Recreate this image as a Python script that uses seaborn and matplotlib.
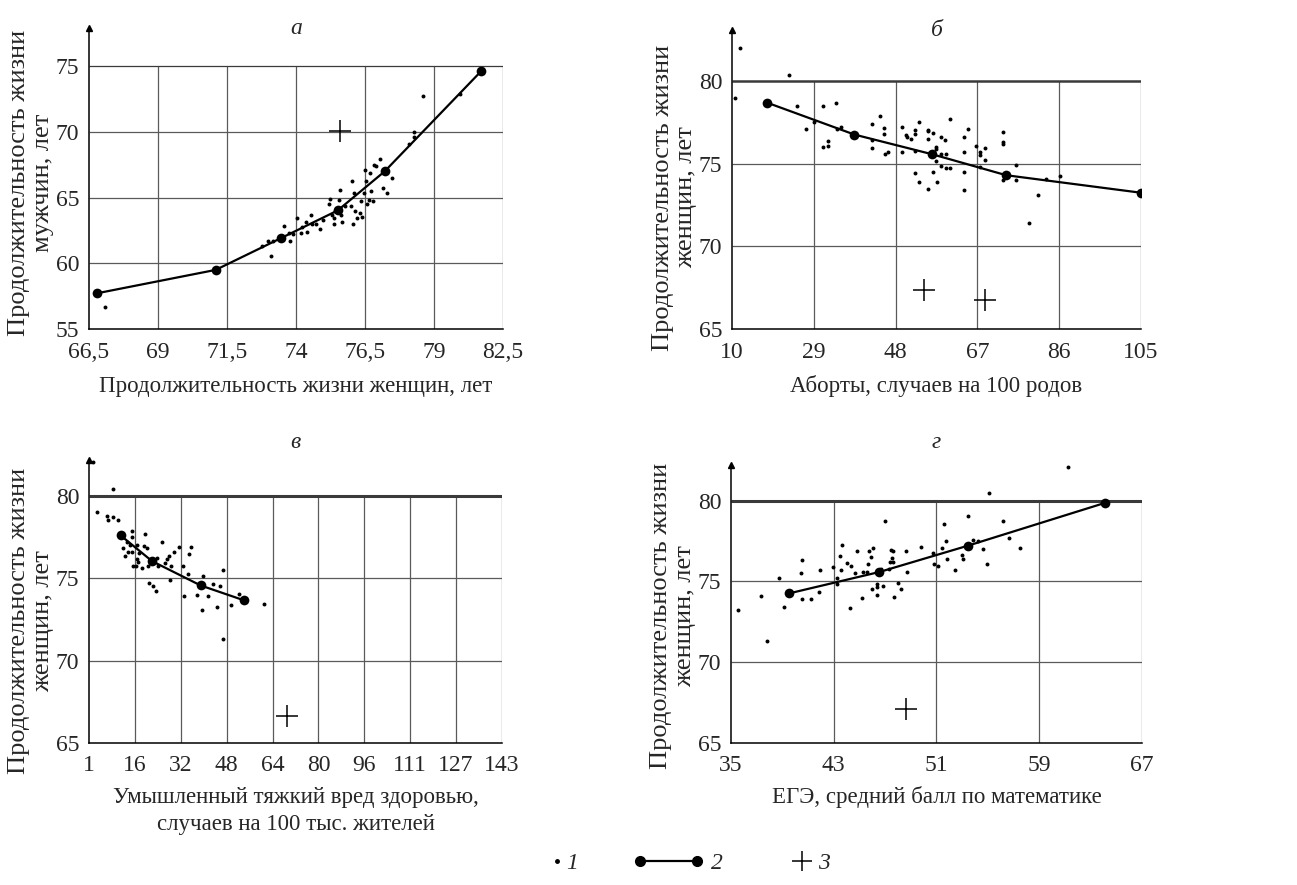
import numpy as np
import pandas as pd
import seaborn as sns
import matplotlib.pyplot as plt
from matplotlib.lines import Line2D
from matplotlib.legend_handler import HandlerLine2D

# ── Panel а: life expectancy, women (x) vs men (y) ──────────────────
a_pts_x = [67.09, 73.09, 72.76, 72.98, 73.16, 73.57, 73.74, 73.77, 73.91, 74.03,
           74.19, 74.21, 74.37, 74.40, 74.54, 74.58, 74.73, 74.88, 74.98, 75.18,
           75.24, 75.30, 75.36, 75.39, 75.42, 75.55, 75.60, 75.63, 75.67, 75.79,
           75.99, 76.03, 76.06, 76.09, 76.15, 76.21, 76.31, 76.36, 76.39, 76.45,
           76.51, 76.55, 76.57, 76.63, 76.67, 76.72, 76.79, 76.81, 76.91, 77.06,
           77.15, 77.30, 77.48, 78.08, 78.29, 78.27, 78.60, 79.96]
a_pts_y = [56.65, 60.57, 61.33, 61.73, 61.73, 62.85, 62.29, 61.73, 62.22, 63.44,
           62.34, 62.80, 63.18, 62.42, 63.69, 63.00, 63.00, 62.60, 63.31, 64.53,
           64.89, 63.69, 63.00, 63.44, 63.95, 64.83, 65.60, 63.69, 63.18, 64.33,
           64.33, 66.23, 63.00, 65.34, 63.95, 63.44, 63.82, 64.71, 63.56, 65.34,
           67.12, 66.23, 64.53, 64.83, 66.87, 65.47, 64.71, 67.50, 67.38, 67.94,
           65.72, 65.34, 66.49, 69.10, 69.97, 69.61, 72.71, 72.89]
a_line_x = [66.79, 71.09, 73.45, 75.51, 77.21, 80.71]
a_line_y = [57.72, 59.50, 61.91, 64.02, 66.99, 74.62]
a_cross_x = [75.6]
a_cross_y = [70.1]
a_xticks = ["66,5", "69", "71,5", "74", "76,5", "79", "82,5"]
a_yticks = [55, 60, 65, 70, 75]

# ── Panel б: abortions vs female life expectancy ────────────────────
b_pts_x = [11.86, 10.77, 23.17, 25.03, 27.12, 29.06, 31.08, 31.23, 32.24, 32.24,
           34.18, 34.33, 35.34, 42.47, 42.47, 42.47, 44.41, 45.42, 45.42, 45.57,
           46.34, 49.60, 49.60, 50.45, 50.60, 51.53, 52.54, 52.54, 52.54, 52.62,
           53.55, 53.55, 55.41, 55.41, 55.41, 55.64, 56.65, 56.65, 57.42, 57.42,
           57.42, 57.58, 58.59, 58.59, 58.59, 59.52, 59.75, 59.75, 60.68, 60.68,
           63.78, 63.78, 63.78, 63.78, 64.79, 66.72, 67.50, 67.50, 67.50, 68.82,
           68.82, 72.84, 72.84, 72.84, 72.84, 76.02, 76.02, 80.98, 83.00, 86.09,
           78.89]
b_pts_y = [82.02, 78.99, 80.40, 78.49, 77.08, 77.54, 78.49, 76.03, 76.39, 76.09,
           78.69, 77.10, 77.24, 77.44, 76.43, 75.93, 77.88, 77.14, 76.83, 75.58,
           75.73, 77.20, 75.73, 76.77, 76.63, 76.51, 77.04, 76.83, 74.42, 75.77,
           77.54, 73.91, 77.04, 76.53, 73.47, 76.96, 76.88, 74.52, 76.03, 75.87,
           75.16, 73.91, 76.63, 75.62, 74.86, 76.43, 75.58, 74.72, 77.72, 74.72,
           76.63, 75.73, 74.52, 73.41, 77.08, 76.07, 75.73, 75.52, 74.82, 75.93,
           75.22, 76.94, 76.33, 76.17, 74.01, 74.92, 74.05, 73.10, 74.11, 74.25,
           71.39]
b_line_x = [18.06, 38.44, 56.49, 73.70, 105.0]
b_line_y = [78.71, 76.77, 75.58, 74.31, 73.25]
b_cross_x = [54.56, 68.66]
b_cross_y = [67.36, 66.75]
b_xticks = ["10", "29", "48", "67", "86", "105"]
b_yticks = [65, 70, 75, 80]

# ── Panel в: grievous bodily harm vs female life expectancy ─────────
v_pts_x = [2.26, 9.37, 3.87, 7.31, 7.65, 9.37, 11.09, 12.59, 13.39, 14.19,
           14.54, 15.11, 15.68, 15.68, 16.03, 15.91, 17.17, 17.63, 17.63, 17.98,
           18.32, 19.12, 20.04, 20.27, 20.84, 21.19, 21.76, 23.14, 23.94, 24.28,
           24.86, 26.00, 27.15, 27.73, 28.64, 29.10, 28.87, 30.25, 31.97, 33.23,
           33.69, 35.18, 35.53, 35.99, 38.28, 39.77, 40.34, 42.06, 43.55, 45.16,
           46.08, 47.00, 47.23, 49.75, 52.73, 61.34]
v_pts_y = [82.07, 80.45, 79.03, 78.78, 78.54, 78.72, 78.52, 76.86, 76.39, 77.20,
           76.60, 77.00, 77.87, 77.53, 75.74, 76.60, 75.78, 76.19, 77.00, 75.99,
           76.55, 75.64, 76.96, 77.71, 76.86, 75.78, 74.73, 74.53, 74.22, 76.25,
           75.78, 77.20, 75.95, 76.19, 76.35, 75.78, 74.89, 76.60, 76.90, 75.78,
           73.92, 75.24, 76.51, 76.90, 74.02, 73.07, 75.14, 73.92, 74.67, 73.27,
           74.53, 75.54, 71.32, 73.41, 74.06, 73.45]
v_line_x = [11.90, 22.68, 39.43, 54.45]
v_line_y = [77.61, 76.05, 74.57, 73.66]
v_cross_x = [69.0]
v_cross_y = [66.62]
v_xticks = ["1", "16", "32", "48", "64", "80", "96", "111", "127", "143"]
v_yticks = [65, 70, 75, 80]

# ── Panel г: math exam score vs female life expectancy ──────────────
g_pts_x = [35.57, 37.31, 37.78, 38.77, 39.13, 40.43, 40.56, 40.56, 41.21, 41.86,
           41.94, 42.97, 43.29, 43.29, 43.49, 43.55, 43.62, 44.01, 44.27, 44.32,
           44.66, 44.84, 45.18, 45.26, 45.62, 45.70, 45.78, 45.91, 45.96, 46.04,
           46.35, 46.35, 46.35, 46.66, 46.87, 47.00, 47.34, 47.39, 47.44, 47.52,
           47.60, 47.60, 47.70, 48.04, 48.25, 48.64, 48.74, 49.78, 50.69, 50.77,
           51.10, 51.42, 51.60, 51.75, 51.81, 52.45, 52.97, 53.05, 53.44, 53.88,
           54.27, 54.61, 54.92, 55.10, 56.17, 56.61, 57.47, 61.23]
g_pts_y = [73.25, 74.08, 71.32, 75.20, 73.41, 75.54, 76.35, 73.88, 73.88, 74.37,
           75.70, 75.91, 75.18, 74.83, 76.55, 75.70, 77.26, 76.15, 73.35, 75.95,
           75.54, 76.86, 73.96, 75.58, 75.58, 76.05, 76.90, 76.49, 74.53, 77.06,
           74.83, 74.63, 74.18, 75.74, 74.69, 78.72, 75.74, 76.19, 76.92, 76.45,
           76.86, 76.19, 74.06, 74.89, 74.53, 76.90, 75.60, 77.12, 76.76, 76.05,
           75.95, 77.06, 78.52, 77.47, 76.39, 75.70, 76.62, 76.39, 79.03, 77.57,
           77.47, 77.02, 76.05, 80.45, 78.74, 77.71, 77.06, 82.07]
g_line_x = [39.55, 46.56, 53.42, 64.14]
g_line_y = [74.26, 75.58, 77.20, 79.86]
g_cross_x = [48.61]
g_cross_y = [67.13]
g_xticks = ["35", "43", "51", "59", "67"]
g_yticks = [65, 70, 75, 80]

YLAB_M = "Продолжительность жизни\nмужчин, лет"
YLAB_F = "Продолжительность жизни\nженщин, лет"

sns.set_theme(style="white")
plt.rcParams['font.family'] = ['Liberation Serif', 'DejaVu Serif']
FS = 17        # horizontal text
FS_X = 16.5    # x axis labels
FS_Y = 19      # rotated y labels (the scan is squeezed horizontally)
GRID_C = "#5a5a5a"


def draw_panel(ax, title, pts_x, pts_y, line_x, line_y, cross_x, cross_y,
               xlim, xlabels, yticks, ytop, xlabel, ylabel, top_lw, ylab_y,
               xlab_y, title_dy):
    x0, x1 = xlim
    xpos = np.linspace(x0, x1, len(xlabels))
    ygrid_top = yticks[-1]

    # grid, drawn only inside the box below the top tick
    ax.vlines(xpos[1:], yticks[0], ygrid_top, color=GRID_C, lw=0.9, zorder=1)
    ax.hlines(yticks[1:-1], x0, x1, color=GRID_C, lw=0.9, zorder=1)
    ax.hlines([ygrid_top], x0, x1, color="#3a3a3a", lw=top_lw, zorder=1)

    sns.scatterplot(x=pts_x, y=pts_y, ax=ax, color="black", s=8, linewidth=0,
                    zorder=3, clip_on=False)
    sns.lineplot(x=line_x, y=line_y, ax=ax, color="black", lw=1.6, marker="o",
                 markersize=7, markeredgewidth=0, sort=False, estimator=None,
                 zorder=4)
    sns.scatterplot(x=cross_x, y=cross_y, ax=ax, color="black", marker="+",
                    s=240, linewidth=1.1, zorder=4)

    ax.set_xlim(x0, x1)
    ax.set_ylim(yticks[0], ytop)
    ax.set_xticks(xpos)
    ax.set_xticklabels(xlabels)
    ax.set_yticks(yticks)
    ax.set_yticklabels([str(t) for t in yticks])
    ax.tick_params(length=0, labelsize=FS)
    ax.tick_params(axis="x", pad=9)
    ax.tick_params(axis="y", pad=7)

    for side in ("top", "right"):
        ax.spines[side].set_visible(False)
    for side in ("left", "bottom"):
        ax.spines[side].set_color("black")
        ax.spines[side].set_linewidth(1.1)
    ax.plot(0, 1, marker="^", ms=5, color="black", transform=ax.transAxes,
            clip_on=False, zorder=5)

    ax.set_xlabel(xlabel, fontsize=FS_X, linespacing=1.4)
    ax.set_ylabel(ylabel, fontsize=FS_Y, linespacing=1.1)
    ax.xaxis.set_label_coords(0.5, xlab_y)
    ax.yaxis.set_label_coords(-0.085, ylab_y)
    ax.text(0.5, 1.0 + title_dy, title, transform=ax.transAxes, ha="center",
            va="center", fontsize=FS, style="italic")


fig = plt.figure(figsize=(12.97, 8.85), dpi=100)
ax_a = fig.add_axes([0.0686, 0.6282, 0.3192, 0.3401])
ax_b = fig.add_axes([0.5644, 0.6282, 0.3153, 0.3379])
ax_v = fig.add_axes([0.0686, 0.1605, 0.3184, 0.3198])
ax_g = fig.add_axes([0.5636, 0.1605, 0.3169, 0.3141])

draw_panel(ax_a, "а", a_pts_x, a_pts_y, a_line_x, a_line_y, a_cross_x, a_cross_y,
           (66.5, 81.5), a_xticks, a_yticks, 77.9,
           "Продолжительность жизни женщин, лет", YLAB_M, 0.9, 0.485, -0.155, 0.0)
draw_panel(ax_b, "б", b_pts_x, b_pts_y, b_line_x, b_line_y, b_cross_x, b_cross_y,
           (10, 105), b_xticks, b_yticks, 83.1,
           "Аборты, случаев на 100 родов", YLAB_F, 1.8, 0.44, -0.155, 0.0)
draw_panel(ax_v, "в", v_pts_x, v_pts_y, v_line_x, v_line_y, v_cross_x, v_cross_y,
           (1, 143), v_xticks, v_yticks, 82.2,
           "Умышленный тяжкий вред здоровью,\nслучаев на 100 тыс. жителей",
           YLAB_F, 2.2, 0.43, -0.155, 0.06)
draw_panel(ax_g, "г", g_pts_x, g_pts_y, g_line_x, g_line_y, g_cross_x, g_cross_y,
           (35, 67), g_xticks, g_yticks, 82.2,
           "ЕГЭ, средний балл по математике", YLAB_F, 2.2, 0.457, -0.155, 0.08)

# ── Legend (three separate entries) ─────────────────────────────────
h_dot = Line2D([], [], ls="none", marker="o", ms=2.5, color="black")
h_line = Line2D([], [], color="black", lw=1.6, marker="o", ms=7)
h_cross = Line2D([], [], ls="none", marker="+", ms=15, mew=1.1, color="black")
leg_y = 1 - 863 / 885
fig.legend([h_dot], ["1"], loc="center", bbox_to_anchor=(565 / 1297, leg_y),
           frameon=False, handlelength=0.4, handletextpad=0.2,
           prop={"size": FS, "style": "italic"})
fig.legend([h_line], ["2"], loc="center", bbox_to_anchor=(678 / 1297, leg_y),
           frameon=False, handlelength=3.0, handletextpad=0.3,
           handler_map={h_line: HandlerLine2D(numpoints=2)},
           prop={"size": FS, "style": "italic"})
fig.legend([h_cross], ["3"], loc="center", bbox_to_anchor=(810 / 1297, leg_y),
           frameon=False, handlelength=1.0, handletextpad=0.15,
           prop={"size": FS, "style": "italic"})

fig.savefig("out.png", dpi=100)
